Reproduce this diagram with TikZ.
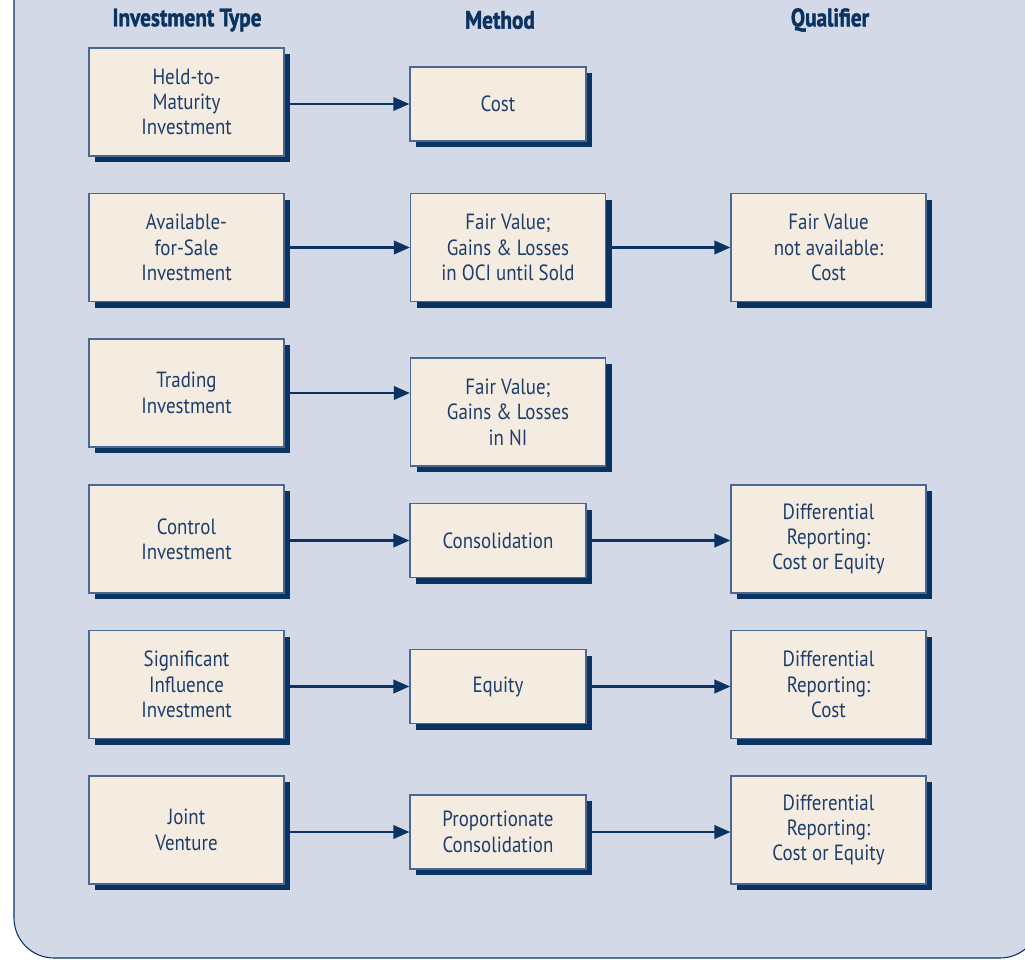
\documentclass[tikz,border=0pt]{standalone}
\usepackage{fontspec}
\setmainfont{PT Sans}[FakeStretch=0.86]
\newfontfamily\headfont{PT Sans}[FakeStretch=0.84, FakeBold=1.6]
\usetikzlibrary{shadows,arrows.meta}
\definecolor{navy}{HTML}{0B3362}
\definecolor{panelbg}{HTML}{D3D9E6}
\definecolor{boxfill}{HTML}{F4ECE0}
\definecolor{boxline}{HTML}{4A6891}
\definecolor{txt}{HTML}{1E3D6B}
\begin{document}
\begin{tikzpicture}[x=0.75pt,y=-0.75pt,
    card/.style={draw=boxline, fill=boxfill, line width=0.8pt, align=center, text=txt,
      font=\fontsize{16.5}{19}\selectfont, inner sep=0pt,
      drop shadow={shadow xshift=4.5pt, shadow yshift=-4.5pt, fill=navy, opacity=1}},
    typebox/.style={card, minimum width=146.25pt, minimum height=81pt},
    methbox/.style={card, minimum width=132pt, minimum height=55.5pt},
    head/.style={text=navy, font=\headfont\bfseries\fontsize{19}{22}\selectfont},
    arr/.style={-{Triangle[length=12pt,width=10pt]}, draw=navy, line width=1.9pt}
  ]
    \useasboundingbox (0,0) rectangle (1025,960);
    \path[fill=panelbg, draw=navy, line width=0.8pt]
      (1040,-10) -- (14,-10) [rounded corners=30pt] -- (14,958) -- (1040,958) [sharp corners] -- cycle;

    \node[head] (hType) at (187,20) {Investment Type};
    \node[head] (hMeth) at (500,20) {Method};
    \node[head] (hQual) at (830,20) {Qualifier};

    % held-to-maturity
    \node[typebox] (htm)  at (186.5,102) {Held-to-\\Maturity\\Investment};
    \node[methbox] (cost) at (498,104)   {Cost};
    % available-for-sale
    \node[typebox] (afs)   at (186.5,247.5) {Available-\\for-Sale\\Investment};
    \node[typebox] (fvoci) at (508,247.5)   {Fair Value;\\Gains \& Losses\\in OCI until Sold};
    \node[typebox] (fvna)  at (828.5,247.5) {Fair Value\\not available:\\Cost};
    % trading
    \node[typebox] (trd)  at (186.5,393) {Trading\\Investment};
    \node[typebox] (fvni) at (508,412)   {Fair Value;\\Gains \& Losses\\in NI};
    % control
    \node[typebox] (ctl)   at (186.5,539) {Control\\Investment};
    \node[methbox] (cons)  at (498,540.5) {Consolidation};
    \node[typebox] (drce1) at (828.5,539) {Differential\\Reporting:\\Cost or Equity};
    % significant influence
    \node[typebox] (sig) at (186.5,684.5) {Significant\\Influence\\Investment};
    \node[methbox] (eq)  at (498,686.5)   {Equity};
    \node[typebox] (drc) at (828.5,684.5) {Differential\\Reporting:\\Cost};
    % joint venture
    \node[typebox] (jv)    at (186.5,830) {Joint\\Venture};
    \node[methbox] (prop)  at (498,832)   {Proportionate\\Consolidation};
    \node[typebox] (drce2) at (828.5,830) {Differential\\Reporting:\\Cost or Equity};

    \draw[arr] (htm.east |- cost.west) -- (cost.west);
    \draw[arr] (afs.east) -- (fvoci.west);
    \draw[arr] (fvoci.east) -- (fvna.west);
    \draw[arr] (trd.east) -- (trd.east -| fvni.west);
    \draw[arr] (ctl.east |- cons.west) -- (cons.west);
    \draw[arr] (cons.east) -- (cons.east -| drce1.west);
    \draw[arr] (sig.east |- eq.west) -- (eq.west);
    \draw[arr] (eq.east) -- (eq.east -| drc.west);
    \draw[arr] (jv.east |- prop.west) -- (prop.west);
    \draw[arr] (prop.east) -- (prop.east -| drce2.west);
\end{tikzpicture}
\end{document}
